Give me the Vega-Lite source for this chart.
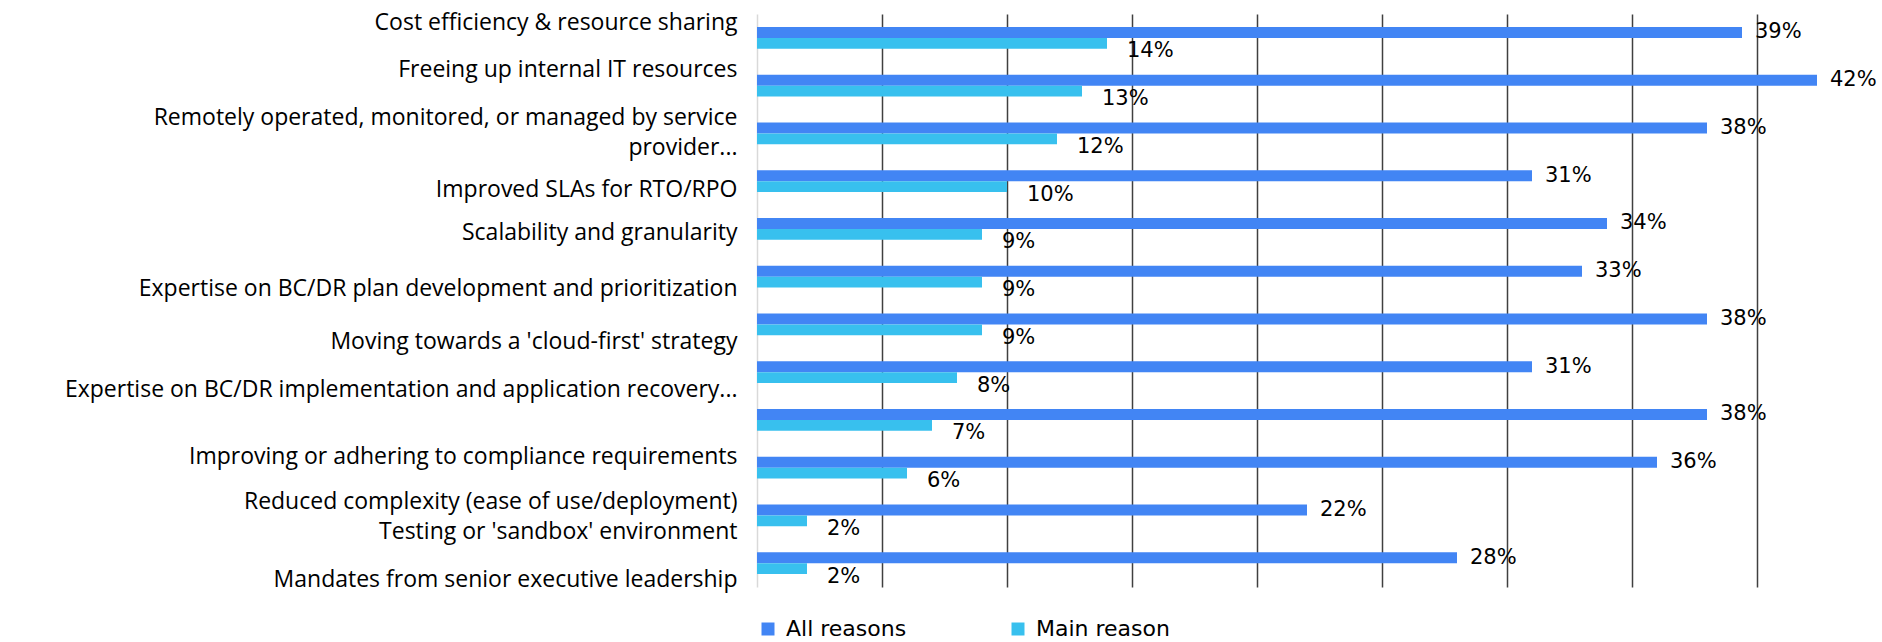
{
  "$schema": "https://vega.github.io/schema/vega-lite/v6.json",
  "width": 1100,
  "height": 573,
  "autosize": {"type": "none"},
  "padding": {"left": 757, "top": 14, "right": 25, "bottom": 55},
  "background": "white",
  "config": {"view": {"stroke": null}},
  "data": {
    "values": [
      {"reason": "Cost efficiency & resource sharing", "series": "All reasons", "value": 0.394},
      {"reason": "Cost efficiency & resource sharing", "series": "Main reason", "value": 0.14},
      {"reason": "Freeing up internal IT resources", "series": "All reasons", "value": 0.424},
      {"reason": "Freeing up internal IT resources", "series": "Main reason", "value": 0.13},
      {"reason": "Remotely operated, monitored, or managed by service | provider...", "series": "All reasons", "value": 0.38},
      {"reason": "Remotely operated, monitored, or managed by service | provider...", "series": "Main reason", "value": 0.12},
      {"reason": "Improved SLAs for RTO/RPO", "series": "All reasons", "value": 0.31},
      {"reason": "Improved SLAs for RTO/RPO", "series": "Main reason", "value": 0.10},
      {"reason": "Scalability and granularity", "series": "All reasons", "value": 0.34},
      {"reason": "Scalability and granularity", "series": "Main reason", "value": 0.09},
      {"reason": "Expertise on BC/DR plan development and prioritization", "series": "All reasons", "value": 0.33},
      {"reason": "Expertise on BC/DR plan development and prioritization", "series": "Main reason", "value": 0.09},
      {"reason": "Moving towards a 'cloud-first' strategy", "series": "All reasons", "value": 0.38},
      {"reason": "Moving towards a 'cloud-first' strategy", "series": "Main reason", "value": 0.09},
      {"reason": "Expertise on BC/DR implementation and application recovery...", "series": "All reasons", "value": 0.31},
      {"reason": "Expertise on BC/DR implementation and application recovery...", "series": "Main reason", "value": 0.08},
      {"reason": "", "series": "All reasons", "value": 0.38},
      {"reason": "", "series": "Main reason", "value": 0.07},
      {"reason": "Improving or adhering to compliance requirements", "series": "All reasons", "value": 0.36},
      {"reason": "Improving or adhering to compliance requirements", "series": "Main reason", "value": 0.06},
      {"reason": "Reduced complexity (ease of use/deployment) | Testing or 'sandbox' environment", "series": "All reasons", "value": 0.22},
      {"reason": "Reduced complexity (ease of use/deployment) | Testing or 'sandbox' environment", "series": "Main reason", "value": 0.02},
      {"reason": "Mandates from senior executive leadership", "series": "All reasons", "value": 0.28},
      {"reason": "Mandates from senior executive leadership", "series": "Main reason", "value": 0.02}
    ]
  },
  "encoding": {
    "y": {
      "field": "reason",
      "type": "nominal",
      "sort": null,
      "scale": {"paddingInner": 0.54, "paddingOuter": 0.27},
      "axis": {
        "title": null,
        "ticks": false,
        "domainColor": "#d9d9d9",
        "domainWidth": 1.5,
        "labelPadding": 20,
        "labelFont": "Open Sans",
        "labelFontSize": 23,
        "labelColor": "#000000",
        "labelLimit": 0,
        "labelLineHeight": 30,
        "labelExpr": "split(datum.label, ' | ')",
        "labelOffset": {
          "condition": [
            {"test": "indexof(datum.value, 'Cost efficiency') == 0", "value": -15},
            {"test": "indexof(datum.value, 'Freeing up') == 0", "value": -16},
            {"test": "indexof(datum.value, 'Remotely') == 0", "value": -15},
            {"test": "indexof(datum.value, 'Improved SLAs') == 0", "value": 9},
            {"test": "indexof(datum.value, 'Scalability') == 0", "value": 4},
            {"test": "indexof(datum.value, 'Expertise on BC/DR plan') == 0", "value": 12},
            {"test": "indexof(datum.value, 'Moving towards') == 0", "value": 18},
            {"test": "indexof(datum.value, 'Expertise on BC/DR implementation') == 0", "value": 18},
            {"test": "indexof(datum.value, 'Improving or') == 0", "value": -11},
            {"test": "indexof(datum.value, 'Reduced complexity') == 0", "value": -13},
            {"test": "indexof(datum.value, 'Mandates') == 0", "value": 17}
          ],
          "value": 0
        }
      }
    },
    "x": {
      "field": "value",
      "type": "quantitative",
      "scale": {"domain": [0, 0.44]},
      "axis": {
        "title": null,
        "labels": false,
        "ticks": false,
        "domain": false,
        "grid": true,
        "values": [0.05, 0.1, 0.15, 0.2, 0.25, 0.3, 0.35, 0.4],
        "gridColor": "#404040",
        "gridWidth": 1.5
      }
    },
    "yOffset": {"field": "series", "type": "nominal", "sort": ["All reasons", "Main reason"]}
  },
  "layer": [
    {
      "mark": {"type": "bar"},
      "encoding": {
        "color": {
          "field": "series",
          "type": "nominal",
          "scale": {"domain": ["All reasons", "Main reason"], "range": ["#4285F4", "#38C0EE"]},
          "legend": {
            "title": null,
            "orient": "bottom",
            "direction": "horizontal",
            "symbolType": "square",
            "symbolSize": 169,
            "symbolStrokeWidth": 0,
            "labelFont": "DejaVu Sans",
            "labelFontSize": 22,
            "labelColor": "#000000",
            "labelOffset": 7,
            "columnPadding": 100,
            "offset": 31
          }
        }
      }
    },
    {
      "transform": [{"filter": "datum.series == 'All reasons'"}],
      "mark": {"type": "text", "align": "left", "baseline": "middle", "dx": 13, "dy": 0, "font": "DejaVu Sans", "fontSize": 21, "color": "#000000"},
      "encoding": {"text": {"field": "value", "type": "quantitative", "format": ".0%"}}
    },
    {
      "transform": [{"filter": "datum.series == 'Main reason'"}],
      "mark": {"type": "text", "align": "left", "baseline": "middle", "dx": 20, "dy": 8, "font": "DejaVu Sans", "fontSize": 21, "color": "#000000"},
      "encoding": {"text": {"field": "value", "type": "quantitative", "format": ".0%"}}
    }
  ]
}
